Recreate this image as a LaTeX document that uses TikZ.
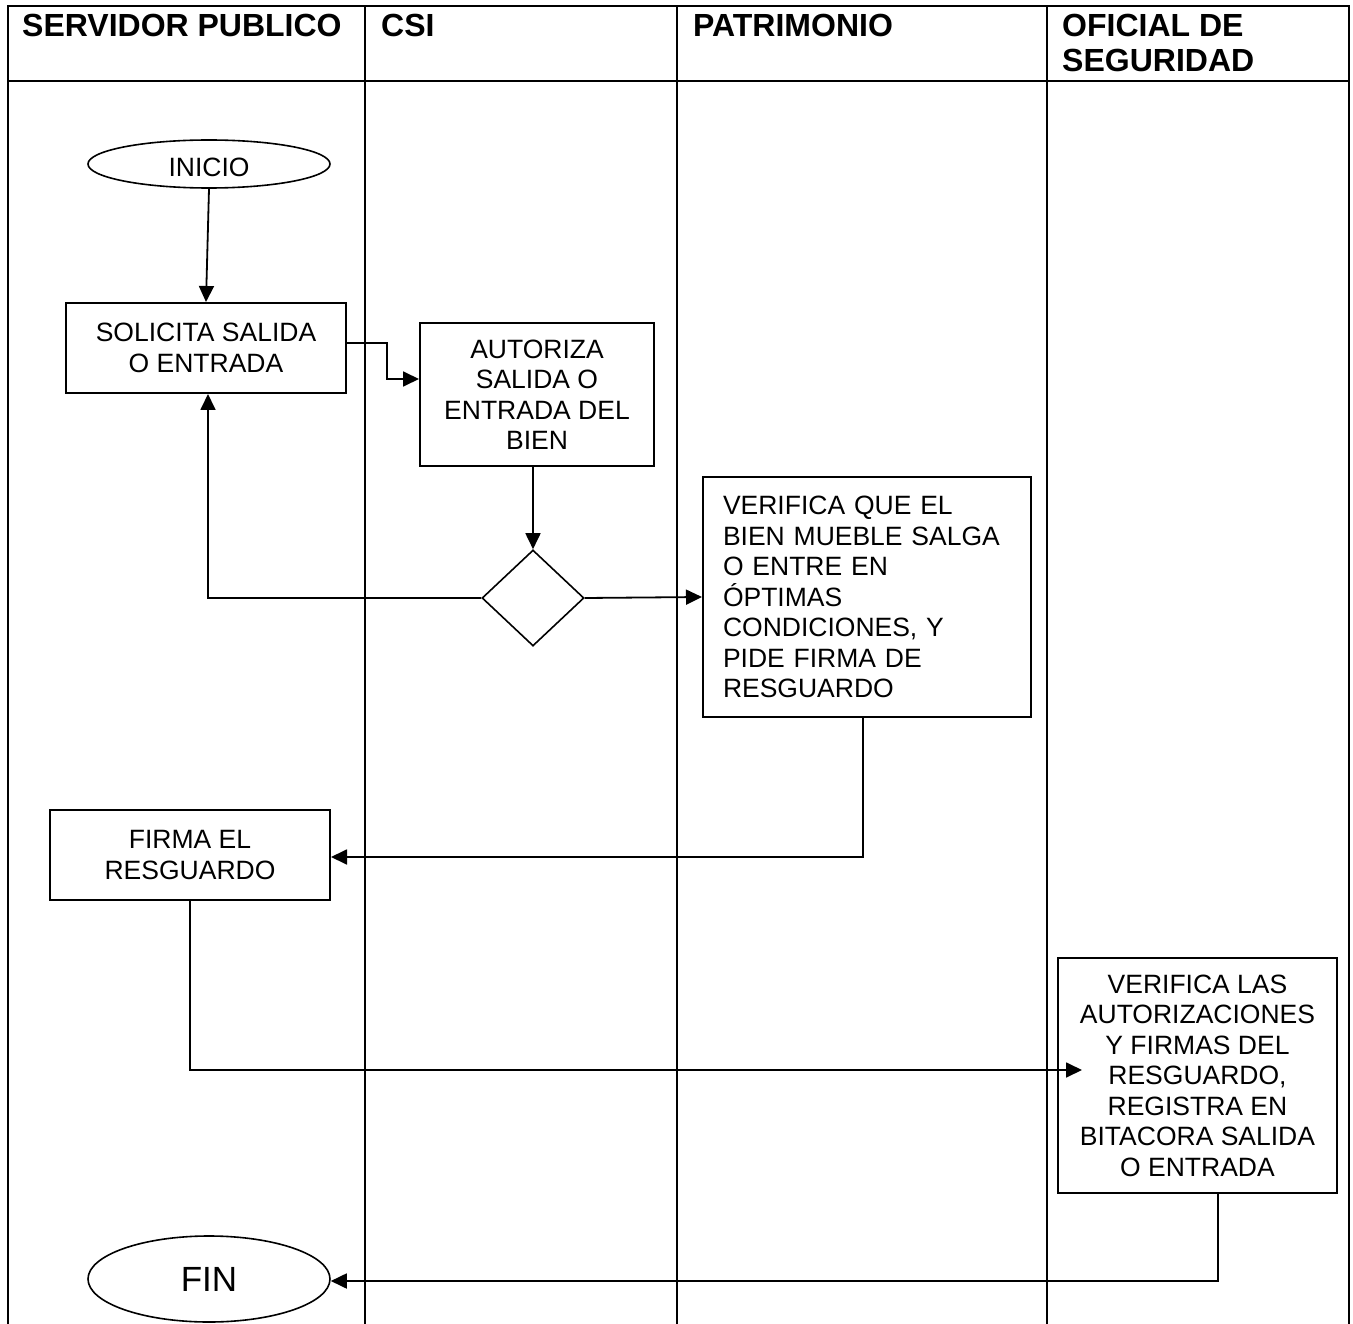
\documentclass[tikz,border=0pt]{standalone}
\usepackage{fontspec}
\setmainfont{Liberation Sans}
\usetikzlibrary{shapes.geometric,arrows.meta}
\newcommand\fbody{\fontsize{26.5}{30.5}\selectfont}
\newcommand\fhead{\fontsize{32}{35}\selectfont\bfseries}
\begin{document}
\begin{tikzpicture}[x=1pt,y=-1pt,
  lane/.style={line width=1.1pt},
  box/.style={draw,line width=2pt,rectangle,inner sep=0pt,align=center,font=\fbody},
  term/.style={draw,line width=1.6pt,ellipse,inner sep=0pt,font=\fbody},
  conn/.style={line width=1.8pt,-{Triangle[length=16pt,width=15pt]}},
  head/.style={anchor=base west,inner sep=0pt,align=left,font=\fhead}]
\useasboundingbox (0,0) rectangle (1353,1324);
% swimlane table
\draw[lane] (8,1324) -- (8,6) -- (1349,6) -- (1349,1324);
\draw[lane] (8,81) -- (1349,81);
\draw[lane] (365,6) -- (365,1324);
\draw[lane] (677,6) -- (677,1324);
\draw[lane] (1047,6) -- (1047,1324);
\node[head] (h1) at (22,37) {SERVIDOR PUBLICO};
\node[head] (h2) at (381,37) {CSI};
\node[head] (h3) at (693,37) {PATRIMONIO};
\node[head] (h4) at (1062,72) {OFICIAL DE\\SEGURIDAD};
% nodes
\node[term,minimum width=242pt,minimum height=48pt] (ini) at (209,164) {};
\node[inner sep=0pt,font=\fbody] (initxt) at (209,167) {INICIO};
\node[box,minimum width=280pt,minimum height=90pt] (sol) at (206,348) {SOLICITA SALIDA\\O ENTRADA};
\node[box,minimum width=234pt,minimum height=143pt] (aut) at (537,394.5) {AUTORIZA\\SALIDA O\\ENTRADA DEL\\BIEN};
\node[draw,diamond,line width=1.6pt,minimum width=102pt,minimum height=96pt,inner sep=0pt] (dia) at (533,598) {};
\node[box,minimum width=328pt,minimum height=240pt,text width=288pt,align=left] (ver) at (867,597) {VERIFICA QUE EL\\BIEN MUEBLE SALGA\\O ENTRE EN\\ÓPTIMAS\\CONDICIONES, Y\\PIDE FIRMA DE\\RESGUARDO};
\node[box,minimum width=280pt,minimum height=90pt] (fir) at (190,855) {FIRMA EL\\RESGUARDO};
\node[box,minimum width=279pt,minimum height=235pt] (vla) at (1197.5,1075.5) {VERIFICA LAS\\AUTORIZACIONES\\Y FIRMAS DEL\\RESGUARDO,\\REGISTRA EN\\BITACORA SALIDA\\O ENTRADA};
\node[term,minimum width=242pt,minimum height=86pt,font=\fontsize{35}{40}\selectfont] (fin) at (209,1279) {FIN};
% connectors
\draw[conn] (ini.south) -- (sol.north);
\draw[conn] ([yshift=5pt]sol.east) -- ++(40,0) |- ([yshift=15.5pt]aut.west);
\draw[conn] (aut.south -| dia.north) -- (dia.north);
\draw[conn] (dia.west) -| ([xshift=2pt]sol.south);
\draw[conn] (dia.east) -- (ver.west);
\draw[conn] ([xshift=-4pt]ver.south) |- ([yshift=-2pt]fir.east);
\draw[conn] (fir.south) |- ([xshift=25pt,yshift=5.5pt]vla.west);
\draw[conn] ([xshift=20.5pt]vla.south) |- ([yshift=-2pt]fin.east);
\end{tikzpicture}
\end{document}
